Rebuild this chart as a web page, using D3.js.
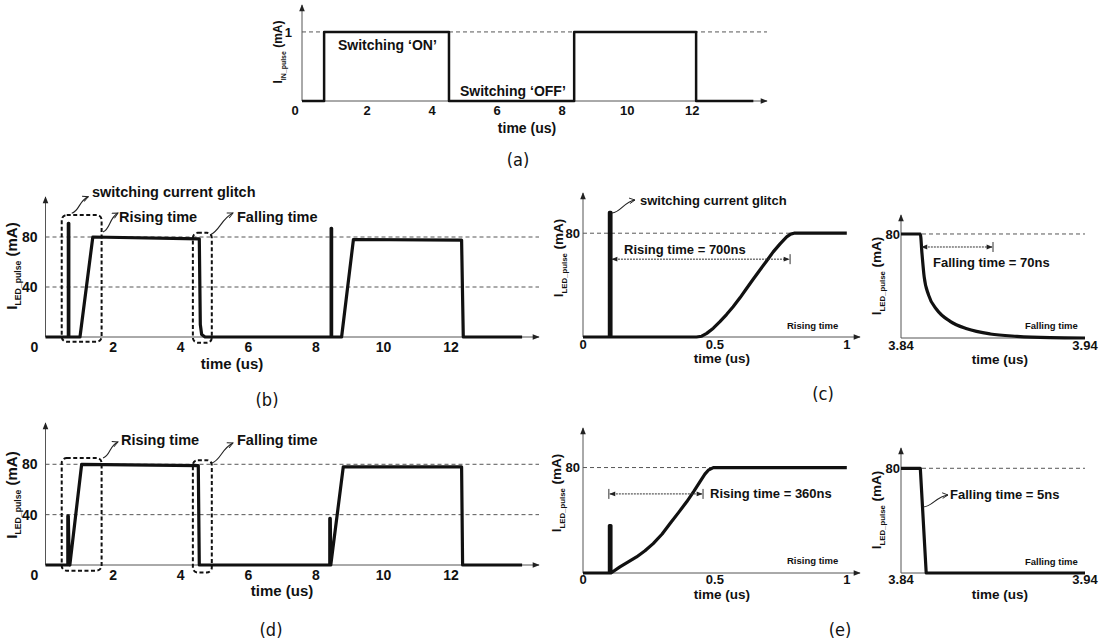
<!DOCTYPE html>
<html>
<head>
<meta charset="utf-8">
<script src="https://cdn.jsdelivr.net/npm/d3@7"></script>
<style>
  body { margin: 0; background: #fff; }
  text { font-family: "Liberation Sans", Arial, sans-serif; fill: #111; }
  .cap { font-family: "Liberation Sans Narrow", "DejaVu Sans Condensed", sans-serif; font-weight: normal; }
</style>
</head>
<body>
<svg width="1107" height="642"></svg>
<script>
//--Data (time in us, current in mA)
const inPulse = [[0,0],[0.68,0],[0.68,1],[4.52,1],[4.52,0],[8.37,0],[8.37,1],[12.12,1],[12.12,0],[13.88,0]];

const ledPulseB = [[0,0],[0.675,0],[0.675,91],[0.69,91],[0.69,0],[1.02,0],[1.40,80],[4.55,78.5],
  [4.58,10],[4.62,2],[4.72,0],[8.45,0],[8.45,87],[8.465,87],[8.465,0],[8.76,0],[9.11,78],
  [12.31,77.5],[12.36,0],[14.1,0]];

const ledPulseD = [[0,0],[0.66,0],[0.66,39],[0.675,39],[0.70,2],[0.72,0],[1.07,80],[4.52,79],
  [4.55,0],[8.41,0],[8.41,37],[8.425,37],[8.44,0],[8.81,78],[12.31,78],[12.34,0],[14.1,0]];

const riseC = [[0,0],[0.10,0],[0.10,96],[0.106,96],[0.106,0],[0.43,0],[0.45,0.6],[0.469,2.8],
  [0.494,6.8],[0.519,11.8],[0.544,17.3],[0.569,23.3],[0.595,30.2],[0.62,37.4],[0.645,44.5],
  [0.67,51.5],[0.696,58.6],[0.721,65.6],[0.747,71.8],[0.772,77.2],[0.787,79.3],[0.80,80],[1.0,80]];

const fallC = [[3.84,80],[3.8505,80],[3.8514,65],[3.8526,47],[3.855,33],[3.8595,21.7],
  [3.8667,12.8],[3.8758,7.1],[3.8885,3.1],[3.903,1.3],[3.921,0.3],[3.94,0]];

const riseE = [[0,0],[0.10,0],[0.10,36],[0.106,36],[0.106,0],[0.14,4.6],[0.17,8.2],[0.203,12.2],
  [0.235,16.9],[0.266,22.3],[0.30,29.6],[0.33,37.5],[0.362,45.8],[0.393,54],[0.42,62],
  [0.443,69.2],[0.462,75],[0.475,78],[0.494,80],[1.0,80]];

const fallE = [[3.84,80],[3.8505,80],[3.8537,0],[3.94,0]];

const longTicks = [0, 2, 4, 6, 8, 10, 12];
const shortTicks = [0, 0.5, 1];
const fallTicks = [3.84, 3.94];

//--Root
const root = d3.select("svg");
const defs = root.append("defs");
defs.append("marker").attr("id", "axisArrow")
  .attr("viewBox", "0 0 10 10").attr("refX", 9).attr("refY", 5)
  .attr("markerWidth", 8).attr("markerHeight", 7).attr("markerUnits", "userSpaceOnUse")
  .attr("orient", "auto")
  .append("path").attr("d", "M0,1L10,5L0,9Z").attr("fill", "#222");
defs.append("marker").attr("id", "measArrow")
  .attr("viewBox", "0 0 10 10").attr("refX", 9).attr("refY", 5)
  .attr("markerWidth", 7).attr("markerHeight", 6).attr("markerUnits", "userSpaceOnUse")
  .attr("orient", "auto-start-reverse")
  .append("path").attr("d", "M0,1L10,5L0,9Z").attr("fill", "#222");
defs.append("marker").attr("id", "curlArrow")
  .attr("viewBox", "0 0 10 10").attr("refX", 9).attr("refY", 5)
  .attr("markerWidth", 7).attr("markerHeight", 7).attr("markerUnits", "userSpaceOnUse")
  .attr("orient", "auto")
  .append("path").attr("d", "M1,1L9,5L1,9").attr("fill", "none")
  .attr("stroke", "#222").attr("stroke-width", 1.3);

//--Panel drawing
function drawPanel(p) {
  const x = d3.scaleLinear().domain(p.xDomain).range(p.xRange);
  const y = d3.scaleLinear().domain(p.yDomain).range(p.yRange);
  const g = root.append("g");

  //reference dashes
  g.selectAll("line.ref").data(p.refs).join("line")
    .classed("ref", true)
    .attr("x1", x(p.xDomain[0])).attr("x2", x(p.refEnd))
    .attr("y1", d => y(d)).attr("y2", d => y(d))
    .attr("stroke", "#444").attr("stroke-width", 0.9).attr("stroke-dasharray", "4,3");

  //axes
  g.append("line")
    .attr("x1", x(p.xDomain[0])).attr("x2", x(p.xDomain[1]))
    .attr("y1", y(0)).attr("y2", y(0))
    .attr("stroke", "#555").attr("stroke-width", 1)
    .attr("marker-end", p.xArrow ? "url(#axisArrow)" : null);
  g.append("line")
    .attr("x1", x(p.xDomain[0])).attr("x2", x(p.xDomain[0]))
    .attr("y1", y(0)).attr("y2", y(p.yDomain[1]))
    .attr("stroke", "#555").attr("stroke-width", 1)
    .attr("marker-end", "url(#axisArrow)");

  //waveform
  g.append("path").datum(p.data)
    .attr("d", d3.line().x(d => x(d[0])).y(d => y(d[1])).curve(p.curve || d3.curveLinear))
    .attr("fill", "none").attr("stroke", "#111")
    .attr("stroke-width", p.lineWidth).attr("stroke-linejoin", "round");

  //x tick labels
  g.selectAll("text.xt").data(p.xTicks).join("text")
    .classed("xt", true)
    .attr("x", d => x(d) + (d === 0 ? p.zeroShift : 0))
    .attr("y", y(0) + p.tickDy)
    .attr("text-anchor", "middle")
    .style("font-size", p.tickSize + "px").style("font-weight", "bold")
    .text(d => d);

  //y tick labels
  g.selectAll("text.yt").data(p.yTicks).join("text")
    .classed("yt", true)
    .attr("x", x(p.xDomain[0]) - p.yTickGap)
    .attr("y", d => y(d)).attr("dy", "0.36em")
    .attr("text-anchor", "end")
    .style("font-size", p.tickSize + "px").style("font-weight", "bold")
    .text(d => d);

  //axis titles
  g.append("text")
    .attr("x", p.xTitle[0]).attr("y", p.xTitle[1])
    .attr("text-anchor", "middle")
    .style("font-size", p.titleSize + "px").style("font-weight", "bold")
    .text("time (us)");
  const yl = g.append("text")
    .attr("transform", "translate(" + p.yTitle[0] + "," + p.yTitle[1] + ")rotate(-90)")
    .attr("text-anchor", "middle")
    .style("font-size", p.yTitleSize + "px").style("font-weight", "bold");
  yl.append("tspan").text("I");
  yl.append("tspan").attr("dy", 4).style("font-size", (p.yTitleSize * 0.58) + "px").text(p.sub);
  yl.append("tspan").attr("dy", -4).text(" (mA)");

  return {x, y, g};
}

function squiggle(x1, y1, x2, y2) {
  const dx = x2 - x1, dy = y2 - y1;
  const len = Math.hypot(dx, dy);
  const nx = -dy / len * 4, ny = dx / len * 4;
  root.append("path")
    .attr("d", "M" + x1 + "," + y1 +
      "C" + (x1 + dx * 0.3 + nx) + "," + (y1 + dy * 0.3 + ny) + " " +
      (x1 + dx * 0.6 - nx) + "," + (y1 + dy * 0.6 - ny) + " " + x2 + "," + y2)
    .attr("fill", "none").attr("stroke", "#222").attr("stroke-width", 1.1)
    .attr("marker-end", "url(#curlArrow)");
}

function label(txt, x, y, size, anchor) {
  root.append("text").attr("x", x).attr("y", y)
    .attr("text-anchor", anchor || "start")
    .style("font-size", size + "px").style("font-weight", "bold")
    .text(txt);
}

function caption(txt, x, y) {
  root.append("text").classed("cap", true).attr("x", x).attr("y", y)
    .attr("text-anchor", "middle").style("font-size", "18px").text(txt);
}

function glitchBox(pn, t0, t1, v0, v1) {
  pn.g.append("rect")
    .attr("x", pn.x(t0)).attr("y", pn.y(v1))
    .attr("width", pn.x(t1) - pn.x(t0)).attr("height", pn.y(v0) - pn.y(v1))
    .attr("rx", 5)
    .attr("fill", "none").attr("stroke", "#111").attr("stroke-width", 2)
    .attr("stroke-dasharray", "4,2.5");
}

function measure(pn, t0, t1, v, ticks) {
  const yy = pn.y(v);
  pn.g.append("line")
    .attr("x1", pn.x(t0) + 1).attr("x2", pn.x(t1) - 1).attr("y1", yy).attr("y2", yy)
    .attr("stroke", "#333").attr("stroke-width", 1).attr("stroke-dasharray", "2,1")
    .attr("marker-start", "url(#measArrow)").attr("marker-end", "url(#measArrow)");
  ticks.forEach(t => {
    pn.g.append("line")
      .attr("x1", pn.x(t)).attr("x2", pn.x(t)).attr("y1", yy - 5).attr("y2", yy + 5)
      .attr("stroke", "#333").attr("stroke-width", 1);
  });
}

//--(a) input pulse
drawPanel({
  xDomain: [0, 14.3], xRange: [302, 767], yDomain: [0, 1.39], yRange: [101, 5],
  refs: [1], refEnd: 14.3, xArrow: true, data: inPulse, lineWidth: 2.5,
  xTicks: longTicks, yTicks: [1], zeroShift: -7, tickDy: 14, tickSize: 13, yTickGap: 10,
  xTitle: [527, 133], titleSize: 14, yTitle: [282, 52], yTitleSize: 12, sub: "IN_pulse"
});
label("Switching \u2018ON\u2019", 338, 50, 14);
label("Switching \u2018OFF\u2019", 460, 96, 14);
caption("(a)", 518, 166);

//--(b) LED pulse, long
const pb = drawPanel({
  xDomain: [0, 14.6], xRange: [45.5, 539], yDomain: [0, 112], yRange: [337, 197],
  refs: [40, 80], refEnd: 14.6, xArrow: true, data: ledPulseB, lineWidth: 3.2,
  xTicks: longTicks, yTicks: [40, 80], zeroShift: -11, tickDy: 15, tickSize: 14, yTickGap: 8,
  xTitle: [232, 369], titleSize: 15, yTitle: [17, 266], yTitleSize: 15, sub: "LED_pulse"
});
glitchBox(pb, 0.48, 1.66, -3.8, 97.6);
glitchBox(pb, 4.36, 4.92, -4.6, 83.4);
squiggle(71.7, 213.3, 88.3, 196.7);
squiggle(103, 232, 118, 213);
squiggle(210, 235, 233, 213);
label("switching current glitch", 92, 197, 14.5);
label("Rising time", 119, 222, 14.5);
label("Falling time", 237, 222, 14.5);
caption("(b)", 267, 406);

//--(c) rising detail
const pc = drawPanel({
  xDomain: [0, 1.05], xRange: [583, 860], yDomain: [0, 111], yRange: [337, 193],
  refs: [80], refEnd: 1.004, xArrow: true, data: riseC, lineWidth: 3.2,
  xTicks: shortTicks, yTicks: [80], zeroShift: 0, tickDy: 12, tickSize: 13, yTickGap: 3,
  xTitle: [722, 363], titleSize: 13.5, yTitle: [563, 258], yTitleSize: 13.5, sub: "LED_pulse"
});
measure(pc, 0.106, 0.785, 60, [0.785]);
squiggle(612, 213, 635, 200);
label("switching current glitch", 640, 205, 13);
label("Rising time = 700ns", 624, 254, 13);
label("Rising time", 787, 329, 9.5);

//--(c) falling detail
drawPanel({
  xDomain: [3.84, 3.94], xRange: [901, 1085], yDomain: [0, 94.6], yRange: [338, 215],
  refs: [80], refEnd: 3.94, xArrow: false, data: fallC, lineWidth: 3.2, curve: d3.curveMonotoneX,
  xTicks: fallTicks, yTicks: [80], zeroShift: 0, tickDy: 12, tickSize: 13, yTickGap: 1,
  xTitle: [1000, 364], titleSize: 13.5, yTitle: [881, 276], yTitleSize: 13.5, sub: "LED_pulse"
});
const pcfScaleX = d3.scaleLinear().domain([3.84, 3.94]).range([901, 1085]);
const pcfScaleY = d3.scaleLinear().domain([0, 94.6]).range([338, 215]);
measure({x: pcfScaleX, y: pcfScaleY, g: root}, 3.8508, 3.890, 70, [3.890]);
label("Falling time = 70ns", 933, 267, 13);
label("Falling time", 1025, 329, 9.5);
caption("(c)", 823, 400);

//--(d) LED pulse, long
const pd = drawPanel({
  xDomain: [0, 14.6], xRange: [45.5, 539], yDomain: [0, 112.8], yRange: [565, 423],
  refs: [40, 80], refEnd: 14.6, xArrow: true, data: ledPulseD, lineWidth: 3.2,
  xTicks: longTicks, yTicks: [40, 80], zeroShift: -11, tickDy: 15, tickSize: 14, yTickGap: 8,
  xTitle: [282, 596], titleSize: 15, yTitle: [17, 495], yTitleSize: 15, sub: "LED_pulse"
});
glitchBox(pd, 0.48, 1.66, -4.5, 85);
glitchBox(pd, 4.36, 4.92, -6, 83.3);
squiggle(103, 458, 118, 442);
squiggle(212, 463, 233, 443);
label("Rising time", 121, 445, 14.5);
label("Falling time", 237, 445, 14.5);
caption("(d)", 271, 636);

//--(e) rising detail
const pe = drawPanel({
  xDomain: [0, 1.05], xRange: [583, 860], yDomain: [0, 110], yRange: [573, 428],
  refs: [80], refEnd: 1.004, xArrow: true, data: riseE, lineWidth: 3.2,
  xTicks: shortTicks, yTicks: [80], zeroShift: 0, tickDy: 11, tickSize: 13, yTickGap: 3,
  xTitle: [722, 599], titleSize: 13.5, yTitle: [561, 493], yTitleSize: 13.5, sub: "LED_pulse"
});
measure(pe, 0.098, 0.455, 60, [0.098, 0.455]);
label("Rising time = 360ns", 710, 498, 13);
label("Rising time", 787, 564, 9.5);

//--(e) falling detail
drawPanel({
  xDomain: [3.84, 3.94], xRange: [901, 1085], yDomain: [0, 95.5], yRange: [573, 448],
  refs: [80], refEnd: 3.94, xArrow: false, data: fallE, lineWidth: 3.2,
  xTicks: fallTicks, yTicks: [80], zeroShift: 0, tickDy: 11, tickSize: 13, yTickGap: 1,
  xTitle: [1000, 599], titleSize: 13.5, yTitle: [881, 510], yTitleSize: 13.5, sub: "LED_pulse"
});
squiggle(923, 507, 948, 495);
label("Falling time = 5ns", 950, 499, 13);
label("Falling time", 1025, 565, 9.5);
caption("(e)", 840, 636);
</script>
</body>
</html>
